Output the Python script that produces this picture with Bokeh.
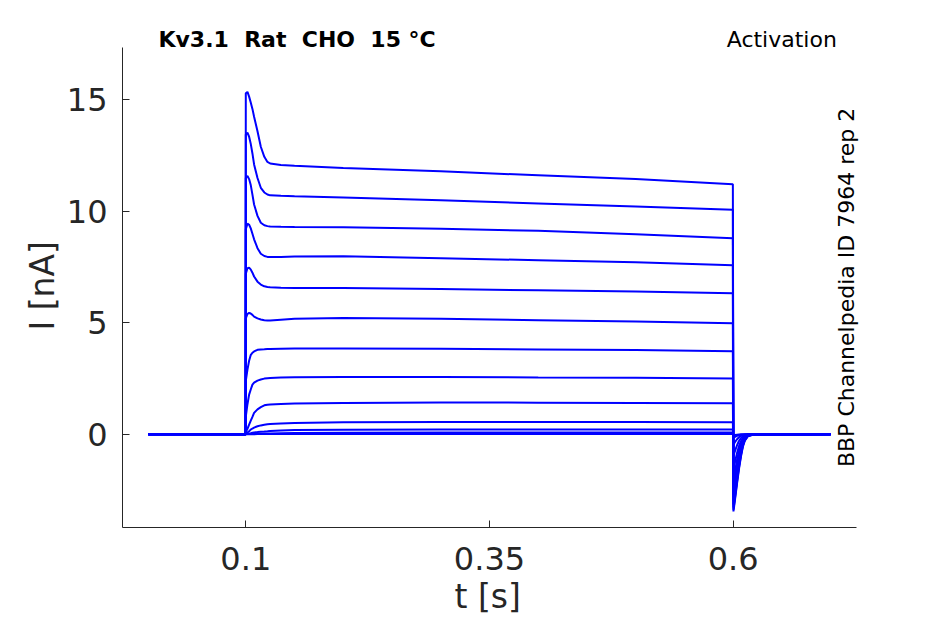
from bokeh.plotting import figure
from bokeh.models import Label, Range1d, Title
from bokeh.embed import file_html
from bokeh.resources import INLINE

# common time grid [s]
t_s = [0.0, 0.0998, 0.1, 0.1017, 0.1034, 0.105, 0.1068, 0.1085, 0.112, 0.1154,
       0.119, 0.1222, 0.125, 0.136, 0.15, 0.2, 0.3, 0.4, 0.5, 0.5997,
       0.6003, 0.602, 0.604, 0.606, 0.608, 0.610, 0.612, 0.615, 0.62, 0.7]

# current traces [nA], one per voltage step
i_01 = [0, 0, 15.3, 15.36, 15.15, 14.9, 14.6, 14.25, 13.6, 12.9, 12.45, 12.22, 12.15, 12.08, 12.05, 11.95, 11.8, 11.62, 11.45, 11.22,
        -3.46, -2.9, -2.2, -1.55, -1.0, -0.55, -0.28, -0.09, -0.02, 0]
i_02 = [0, 0, 13.45, 13.53, 13.35, 13.05, 12.6, 12.11, 11.5, 11.06, 10.85, 10.76, 10.72, 10.7, 10.68, 10.62, 10.5, 10.36, 10.22, 10.07,
        -3.38, -2.82, -2.12, -1.48, -0.94, -0.51, -0.26, -0.08, -0.02, 0]
i_03 = [0, 0, 11.5, 11.59, 11.45, 11.2, 10.75, 10.31, 9.8, 9.49, 9.38, 9.34, 9.32, 9.31, 9.3, 9.29, 9.22, 9.13, 8.98, 8.80,
        -3.28, -2.72, -2.02, -1.4, -0.88, -0.47, -0.24, -0.07, -0.02, 0]
i_04 = [0, 0, 9.2, 9.45, 9.4, 9.25, 9.0, 8.75, 8.35, 8.1, 8.0, 7.96, 7.95, 7.96, 7.98, 7.99, 7.9, 7.81, 7.72, 7.59,
        -3.15, -2.6, -1.92, -1.3, -0.8, -0.43, -0.21, -0.06, -0.01, 0]
i_05 = [0, 0, 7.2, 7.45, 7.47, 7.4, 7.25, 7.08, 6.85, 6.72, 6.64, 6.61, 6.6, 6.58, 6.57, 6.57, 6.52, 6.46, 6.41, 6.33,
        -2.98, -2.45, -1.79, -1.2, -0.73, -0.39, -0.19, -0.05, -0.01, 0]
i_06 = [0, 0, 5.2, 5.4, 5.45, 5.42, 5.36, 5.28, 5.2, 5.15, 5.12, 5.11, 5.11, 5.14, 5.18, 5.22, 5.18, 5.12, 5.06, 4.98,
        -2.75, -2.24, -1.62, -1.07, -0.64, -0.34, -0.16, -0.05, -0.01, 0]
i_07 = [0, 0, 2.4, 2.9, 3.3, 3.55, 3.66, 3.72, 3.79, 3.81, 3.82, 3.83, 3.83, 3.84, 3.85, 3.85, 3.84, 3.81, 3.78, 3.73,
        -2.45, -1.98, -1.41, -0.92, -0.55, -0.29, -0.14, -0.04, -0.01, 0]
i_08 = [0, 0, 0.8, 1.35, 1.78, 2.0, 2.23, 2.32, 2.41, 2.46, 2.5, 2.52, 2.53, 2.55, 2.56, 2.57, 2.57, 2.55, 2.54, 2.51,
        -2.05, -1.64, -1.15, -0.74, -0.44, -0.23, -0.11, -0.03, -0.01, 0]
i_09 = [0, 0, 0.1, 0.25, 0.43, 0.6, 0.78, 0.96, 1.12, 1.22, 1.3, 1.33, 1.34, 1.36, 1.38, 1.41, 1.43, 1.42, 1.41, 1.39,
        -1.55, -1.22, -0.84, -0.53, -0.31, -0.16, -0.08, -0.02, 0, 0]
i_10 = [0, 0, 0.02, 0.08, 0.14, 0.21, 0.26, 0.3, 0.36, 0.4, 0.43, 0.45, 0.46, 0.49, 0.51, 0.54, 0.55, 0.55, 0.55, 0.54,
        -0.95, -0.73, -0.49, -0.3, -0.17, -0.09, -0.04, -0.01, 0, 0]
i_11 = [0, 0, 0.01, 0.02, 0.04, 0.05, 0.07, 0.08, 0.1, 0.12, 0.13, 0.14, 0.15, 0.17, 0.19, 0.21, 0.22, 0.22, 0.22, 0.22,
        -0.45, -0.34, -0.22, -0.13, -0.07, -0.04, -0.02, 0, 0, 0]
i_12 = [0, 0, 0, 0.01, 0.01, 0.02, 0.02, 0.02, 0.03, 0.03, 0.04, 0.04, 0.04, 0.05, 0.06, 0.07, 0.08, 0.08, 0.08, 0.08,
        -0.15, -0.11, -0.07, -0.04, -0.02, -0.01, 0, 0, 0, 0]
i_13 = [0, 0, 0, 0, 0, 0, 0, 0, 0.01, 0.01, 0.01, 0.01, 0.01, 0.01, 0.01, 0.02, 0.02, 0.02, 0.02, 0.02,
        -0.04, -0.03, -0.02, -0.01, 0, 0, 0, 0, 0, 0]

traces = [i_01, i_02, i_03, i_04, i_05, i_06, i_07, i_08, i_09, i_10, i_11, i_12, i_13]

x_ticks = [0.1, 0.35, 0.6]
x_tick_labels = ["0.1", "0.35", "0.6"]
y_ticks = [0, 5, 10, 15]
y_tick_labels = ["0", "5", "10", "15"]

# axis extents (the drawn axis lines) and the wider view that leaves room for the texts
X_AXIS = (-0.0265, 0.7265)
Y_AXIS = (-4.18, 17.35)
X_VIEW = (-0.0265, 0.7563)
Y_VIEW = (-4.18, 18.565)

FONT = "DejaVu Sans"
AX = "#262626"

p = figure(frame_width=763, frame_height=507,
           min_border_left=122, min_border_right=60, min_border_top=20, min_border_bottom=97,
           x_range=Range1d(*X_VIEW), y_range=Range1d(*Y_VIEW),
           output_backend="svg", toolbar_location=None)
p.outline_line_color = None
p.grid.visible = False
p.background_fill_color = "white"
p.border_fill_color = "white"

for tr in traces:
    p.line(t_s, tr, line_color="#0000ff", line_width=2)

for ax, ticks, labels, bnds in ((p.xaxis[0], x_ticks, x_tick_labels, X_AXIS),
                                (p.yaxis[0], y_ticks, y_tick_labels, Y_AXIS)):
    ax.ticker = ticks
    ax.bounds = bnds
    ax.major_label_overrides = dict(zip(ticks, labels))
    ax.axis_line_color = AX
    ax.major_tick_line_color = AX
    ax.major_tick_in = 7
    ax.major_tick_out = 0
    ax.minor_tick_line_color = None
    ax.major_label_text_font = FONT
    ax.major_label_text_font_size = "32px"
    ax.major_label_text_color = AX

p.xaxis.major_label_standoff = 19
p.yaxis.major_label_standoff = 15

# axis titles, placed along the drawn axis extent
p.add_layout(Title(text="t [s]", align="left", offset=332, vertical_align="top", standoff=8,
                   text_font=FONT, text_font_size="33px", text_font_style="normal",
                   text_color=AX), "below")
p.add_layout(Title(text="I [nA]", align="left", offset=197, vertical_align="bottom", standoff=4,
                   text_font=FONT, text_font_size="33px", text_font_style="normal",
                   text_color=AX), "left")

p.add_layout(Label(x=0.0104, y=17.71, text="Kv3.1\u00a0 Rat\u00a0 CHO\u00a0 15 °C", text_font=FONT,
                   text_font_size="22px", text_font_style="bold", text_color="black",
                   text_align="left", text_baseline="alphabetic"))
p.add_layout(Label(x=0.7064, y=17.71, text="Activation", text_font=FONT,
                   text_font_size="22px", text_color="black",
                   text_align="right", text_baseline="alphabetic"))
p.add_layout(Label(x=0.7163, y=6.59, text="BBP Channelpedia ID 7964 rep 2", text_font=FONT,
                   text_font_size="22px", text_color="black", angle=1.5708,
                   text_align="center", text_baseline="alphabetic"))

open("out.html", "w").write(file_html(p, INLINE))
